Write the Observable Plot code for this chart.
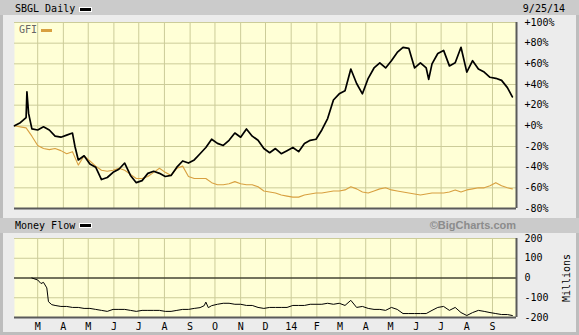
<!DOCTYPE html>
<html><head><meta charset="utf-8">
<script src="https://cdn.jsdelivr.net/npm/d3@7"></script>
<script src="https://cdn.jsdelivr.net/npm/@observablehq/plot@0.6"></script>
<style>
body{margin:0;background:#ececec;}
#wrap{position:relative;width:579px;height:335px;background:#ececec;overflow:hidden;font-family:"DejaVu Sans Mono",monospace;}
.bar{position:absolute;left:0;width:579px;height:15px;background:#cbcbcb;}
.strip{position:absolute;background:#bdbdbd;}
.t{position:absolute;font-size:10px;line-height:10px;color:#000;white-space:pre;}
.sw{position:absolute;width:11px;height:3px;background:#000;border:1px solid #fff;}
.svgbox{position:absolute;left:0;}
</style></head>
<body><div id="wrap">
<div class="strip" style="left:0;top:0;width:3px;height:335px"></div>
<div class="strip" style="right:0;top:0;width:3px;height:335px"></div>
<div class="strip" style="left:0;bottom:0;width:579px;height:3px"></div>
<div class="bar" style="top:0"></div>
<div class="bar" style="top:218px"></div>
<div class="t" style="left:15px;top:4px">SBGL Daily</div>
<div class="sw" style="left:79px;top:7px"></div>
<div class="t" style="right:14px;top:4px">9/25/14</div>
<div class="t" style="left:15px;top:221px">Money Flow</div>
<div class="sw" style="left:79px;top:223px"></div>
<div class="t" style="right:63px;top:220px;font-family:'Liberation Sans',Arial,sans-serif;font-weight:bold;font-size:11px;line-height:11px;color:#8c8c8c">©BigCharts.com</div>
<div id="main" class="svgbox" style="top:15px"></div>
<div id="mf" class="svgbox" style="top:233px"></div>
<div class="t" style="left:19px;top:25px;color:#666;z-index:2">GFI</div>
<div style="position:absolute;left:41px;top:29px;width:11px;height:3px;background:#d8a040;z-index:2"></div>
</div>
<script>
const weekDates = ["2013-02-01","2013-02-08","2013-02-15","2013-02-22","2013-03-01","2013-03-08","2013-03-15","2013-03-22","2013-03-29","2013-04-05","2013-04-12","2013-04-19","2013-04-26","2013-05-03","2013-05-10","2013-05-17","2013-05-24","2013-05-31","2013-06-07","2013-06-14","2013-06-21","2013-06-28","2013-07-05","2013-07-12","2013-07-19","2013-07-26","2013-08-02","2013-08-09","2013-08-16","2013-08-23","2013-08-30","2013-09-06","2013-09-13","2013-09-20","2013-09-27","2013-10-04","2013-10-11","2013-10-18","2013-10-25","2013-11-01","2013-11-08","2013-11-15","2013-11-22","2013-11-29","2013-12-06","2013-12-13","2013-12-20","2013-12-27","2014-01-03","2014-01-10","2014-01-17","2014-01-24","2014-01-31","2014-02-07","2014-02-14","2014-02-21","2014-02-28","2014-03-07","2014-03-14","2014-03-21","2014-03-28","2014-04-04","2014-04-11","2014-04-18","2014-04-25","2014-05-02","2014-05-09","2014-05-16","2014-05-23","2014-05-30","2014-06-06","2014-06-13","2014-06-20","2014-06-27","2014-07-04","2014-07-11","2014-07-18","2014-07-25","2014-08-01","2014-08-08","2014-08-15","2014-08-22","2014-08-29","2014-09-05","2014-09-12","2014-09-19","2014-09-25"];
const gfiValues = [0,-1,-2,-10,-19,-22,-23,-22,-24,-27,-25,-38,-29,-34,-39,-43,-44,-43,-41,-43,-47,-51,-51,-49,-45,-41,-45,-48,-41,-39,-49,-51,-51,-51,-55,-57,-57,-56,-54,-56,-57,-57,-59,-63,-64,-65,-67,-68,-69,-69,-67,-66,-65,-65,-64,-63,-63,-62,-59,-61,-64,-65,-63,-61,-60,-62,-63,-64,-65,-66,-67,-66,-65,-65,-65,-64,-62,-64,-62,-61,-60,-60,-58,-55,-58,-60,-61];

const sbglDates = ["2013-02-01","2013-02-08","2013-02-15","2013-02-16","2013-02-18","2013-02-22","2013-03-01","2013-03-08","2013-03-15","2013-03-22","2013-03-29","2013-04-05","2013-04-12","2013-04-15","2013-04-19","2013-04-26","2013-05-03","2013-05-10","2013-05-17","2013-05-24","2013-05-31","2013-06-07","2013-06-14","2013-06-21","2013-06-28","2013-07-05","2013-07-12","2013-07-19","2013-07-26","2013-08-02","2013-08-09","2013-08-16","2013-08-23","2013-08-30","2013-09-06","2013-09-13","2013-09-20","2013-09-27","2013-10-04","2013-10-11","2013-10-18","2013-10-25","2013-11-01","2013-11-08","2013-11-15","2013-11-22","2013-11-29","2013-12-06","2013-12-13","2013-12-20","2013-12-27","2014-01-03","2014-01-10","2014-01-17","2014-01-24","2014-01-31","2014-02-07","2014-02-14","2014-02-21","2014-02-28","2014-03-07","2014-03-14","2014-03-21","2014-03-28","2014-04-04","2014-04-11","2014-04-18","2014-04-25","2014-05-02","2014-05-09","2014-05-16","2014-05-23","2014-05-30","2014-06-06","2014-06-13","2014-06-16","2014-06-20","2014-06-27","2014-07-04","2014-07-11","2014-07-18","2014-07-25","2014-08-01","2014-08-08","2014-08-15","2014-08-22","2014-08-29","2014-09-05","2014-09-12","2014-09-19","2014-09-25"];
const sbglValues = [0,3,8,33,12,-3,-4,-1,-4,-10,-11,-9,-7,-20,-33,-29,-37,-40,-52,-50,-45,-42,-36,-48,-55,-53,-46,-44,-46,-49,-48,-40,-34,-36,-33,-27,-21,-13,-17,-19,-14,-7,-11,-3,-10,-14,-22,-26,-22,-27,-24,-21,-25,-17,-14,-13,-4,7,25,31,34,55,41,31,46,56,61,56,63,71,76,75,56,61,56,45,60,70,73,58,61,76,52,63,55,52,47,46,44,37,28];

const mfDates = ["2013-02-22","2013-03-01","2013-03-05","2013-03-08","2013-03-12","2013-03-14","2013-03-18","2013-03-22","2013-03-29","2013-04-05","2013-04-12","2013-04-19","2013-04-26","2013-05-03","2013-05-10","2013-05-17","2013-05-24","2013-05-31","2013-06-07","2013-06-14","2013-06-21","2013-06-28","2013-07-05","2013-07-12","2013-07-19","2013-07-26","2013-08-02","2013-08-09","2013-08-16","2013-08-23","2013-08-30","2013-09-06","2013-09-13","2013-09-18","2013-09-20","2013-09-23","2013-09-27","2013-10-04","2013-10-11","2013-10-18","2013-10-25","2013-11-01","2013-11-08","2013-11-15","2013-11-22","2013-11-29","2013-12-06","2013-12-13","2013-12-20","2013-12-27","2014-01-03","2014-01-10","2014-01-17","2014-01-24","2014-01-31","2014-02-07","2014-02-14","2014-02-21","2014-02-28","2014-03-07","2014-03-14","2014-03-21","2014-03-28","2014-04-04","2014-04-11","2014-04-18","2014-04-25","2014-05-02","2014-05-09","2014-05-16","2014-05-23","2014-05-30","2014-06-06","2014-06-13","2014-06-20","2014-06-27","2014-07-04","2014-07-11","2014-07-18","2014-07-25","2014-08-01","2014-08-08","2014-08-15","2014-08-22","2014-08-29","2014-09-05","2014-09-12","2014-09-19","2014-09-25"];
const mfValues = [0,-10,-28,-22,-50,-120,-135,-139,-144,-144,-149,-149,-154,-154,-159,-164,-169,-159,-159,-159,-164,-169,-164,-164,-164,-164,-169,-169,-164,-159,-159,-154,-150,-140,-122,-150,-140,-133,-128,-128,-133,-133,-139,-139,-149,-154,-149,-149,-149,-149,-139,-139,-139,-133,-133,-133,-128,-133,-128,-139,-113,-149,-144,-154,-159,-159,-164,-149,-159,-180,-180,-180,-180,-180,-164,-149,-144,-164,-149,-175,-190,-175,-164,-169,-175,-180,-185,-185,-190];

const monthTicks = ["2013-03-01","2013-04-01","2013-05-01","2013-06-01","2013-07-01","2013-08-01","2013-09-01","2013-10-01","2013-11-01","2013-12-01","2014-01-01","2014-02-01","2014-03-01","2014-04-01","2014-05-01","2014-06-01","2014-07-01","2014-08-01","2014-09-01"];
const monthLabels = ["M","A","M","J","J","A","S","O","N","D","14","F","M","A","M","J","J","A","S"];
const pctTicks = [-80,-60,-40,-20,0,20,40,60,80,100];
const mfTicks = [-200,-100,0,100,200];

const parse = s => new Date(s + "T00:00:00Z");
const gfi = weekDates.map((d, i) => ({date: parse(d), value: gfiValues[i]}));
const sbgl = sbglDates.map((d, i) => ({date: parse(d), value: sbglValues[i]}));
const mf = mfDates.map((d, i) => ({date: parse(d), value: mfValues[i]}));
const months = monthTicks.map(parse);
const labelMap = new Map(months.map((d, i) => [+d, monthLabels[i]]));
const xDomain = [parse("2013-02-01"), parse("2014-09-30")];

const grid = "#cccc99";
const bg = "#ffffd6";
const edge = "#5a5a5a";
const style = {fontFamily: "DejaVu Sans Mono", fontSize: "10px", background: "transparent", color: "#000", overflow: "visible"};

const main = Plot.plot({
  width: 579, height: 196,
  marginLeft: 14, marginRight: 63, marginTop: 7, marginBottom: 3,
  style,
  x: {type: "utc", domain: xDomain, axis: null},
  y: {domain: [-80, 100], axis: null},
  marks: [
    Plot.frame({fill: bg, stroke: null}),
    Plot.ruleX(months, {stroke: grid}),
    Plot.ruleY(pctTicks, {stroke: grid}),
    Plot.line(gfi, {x: "date", y: "value", stroke: "#d8a040", strokeWidth: 1.1}),
    Plot.line(sbgl, {x: "date", y: "value", stroke: "#000", strokeWidth: 1.7}),
    Plot.ruleX([xDomain[1]], {stroke: edge, strokeWidth: 2}),
    Plot.ruleY([-80], {stroke: edge, strokeWidth: 2}),
    Plot.axisY(pctTicks, {anchor: "right", tickSize: 0, tickPadding: 8, label: null,
      tickFormat: d => (d >= 0 ? "+" : "") + d + "%"})
  ]
});
document.getElementById("main").appendChild(main);

const mfPlot = Plot.plot({
  width: 579, height: 102,
  marginLeft: 14, marginRight: 63, marginTop: 5, marginBottom: 18,
  style,
  x: {type: "utc", domain: xDomain, axis: null},
  y: {domain: [-200, 200], axis: null},
  marks: [
    Plot.frame({fill: bg, stroke: null}),
    Plot.ruleX(months, {stroke: grid}),
    Plot.ruleY(mfTicks, {stroke: grid}),
    Plot.ruleY([0], {stroke: "#000"}),
    Plot.line(mf, {x: "date", y: "value", stroke: "#000", strokeWidth: 1}),
    Plot.ruleX([xDomain[1]], {stroke: edge, strokeWidth: 2}),
    Plot.ruleY([-200], {stroke: edge, strokeWidth: 2}),
    Plot.axisY(mfTicks, {anchor: "right", tickSize: 0, tickPadding: 8, label: null, tickFormat: d => String(d)}),
    Plot.axisX(months, {anchor: "bottom", tickSize: 0, tickPadding: 5, label: null, tickFormat: d => labelMap.get(+d)}),
    Plot.text(["Millions"], {frameAnchor: "right", dx: 50, rotate: -90, textAnchor: "middle"})
  ]
});
document.getElementById("mf").appendChild(mfPlot);
</script>
</body></html>
